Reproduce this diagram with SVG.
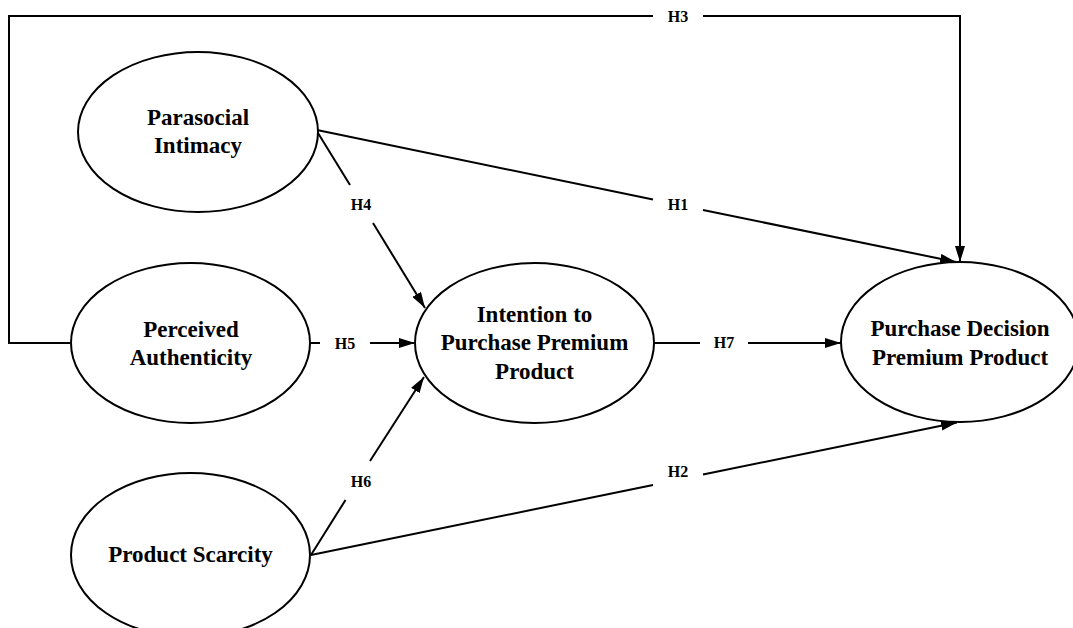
<svg xmlns="http://www.w3.org/2000/svg" width="1073" height="628" viewBox="0 0 1073 628">
<style>
.node ellipse{fill:#fff;stroke:#000;stroke-width:2}
.node text{font-family:"Liberation Serif","Times New Roman",serif;font-weight:bold;font-size:23px;text-anchor:middle;fill:#000}
.edge{fill:none;stroke:#000;stroke-width:2}
.lbl{font-family:"Liberation Serif","Times New Roman",serif;font-weight:bold;font-size:16px;text-anchor:middle;fill:#000}
</style>
<defs>
<marker id="arr" viewBox="0 0 16 10" refX="16" refY="5" markerWidth="16" markerHeight="10" markerUnits="userSpaceOnUse" orient="auto">
<path d="M0,0 L16,5 L0,10 Z" fill="#000"/>
</marker>
</defs>
<rect width="1073" height="628" fill="#fff"/>
<g id="connectors">
<polyline class="edge" points="71,343 9,343 9,16 653,16"/>
<polyline class="edge" points="703,16 960,16 960,262" marker-end="url(#arr)"/>
<text class="lbl" x="678" y="21.5">H3</text>
<line class="edge" x1="317" y1="130" x2="653" y2="199.5"/>
<line class="edge" x1="703" y1="210" x2="956" y2="262" marker-end="url(#arr)"/>
<text class="lbl" x="678" y="209.5">H1</text>
<line class="edge" x1="318" y1="133" x2="350" y2="185"/>
<line class="edge" x1="373" y1="223" x2="425" y2="308" marker-end="url(#arr)"/>
<text class="lbl" x="361" y="209.5">H4</text>
<line class="edge" x1="310" y1="343" x2="320" y2="343"/>
<line class="edge" x1="370" y1="343" x2="415" y2="343" marker-end="url(#arr)"/>
<text class="lbl" x="345" y="348.5">H5</text>
<line class="edge" x1="311" y1="555" x2="345.5" y2="500"/>
<line class="edge" x1="370" y1="461" x2="424" y2="377" marker-end="url(#arr)"/>
<text class="lbl" x="361" y="487">H6</text>
<line class="edge" x1="311" y1="555" x2="653" y2="485"/>
<line class="edge" x1="703" y1="474.5" x2="957" y2="422.5" marker-end="url(#arr)"/>
<text class="lbl" x="678" y="477">H2</text>
<line class="edge" x1="654" y1="343" x2="700" y2="343"/>
<line class="edge" x1="748" y1="343" x2="841" y2="343" marker-end="url(#arr)"/>
<text class="lbl" x="724" y="348">H7</text>
</g>
<g id="node-parasocial" class="node">
<ellipse cx="198" cy="132" rx="120" ry="80"/>
<text x="198" y="125">Parasocial</text>
<text x="198" y="153">Intimacy</text>
</g>
<g id="node-authenticity" class="node">
<ellipse cx="190.5" cy="343" rx="119.5" ry="80"/>
<text x="191" y="336.5">Perceived</text>
<text x="191" y="365">Authenticity</text>
</g>
<g id="node-scarcity" class="node">
<ellipse cx="190.5" cy="555" rx="119.5" ry="82"/>
<text x="190.5" y="562">Product Scarcity</text>
</g>
<g id="node-intention" class="node">
<ellipse cx="534.5" cy="343" rx="119.5" ry="80"/>
<text x="534.5" y="321.5">Intention to</text>
<text x="534.5" y="350">Purchase Premium</text>
<text x="534.5" y="378.5">Product</text>
</g>
<g id="node-decision" class="node">
<ellipse cx="960" cy="342" rx="119" ry="80"/>
<text x="960" y="336">Purchase Decision</text>
<text x="960" y="364.5">Premium Product</text>
</g>
</svg>
